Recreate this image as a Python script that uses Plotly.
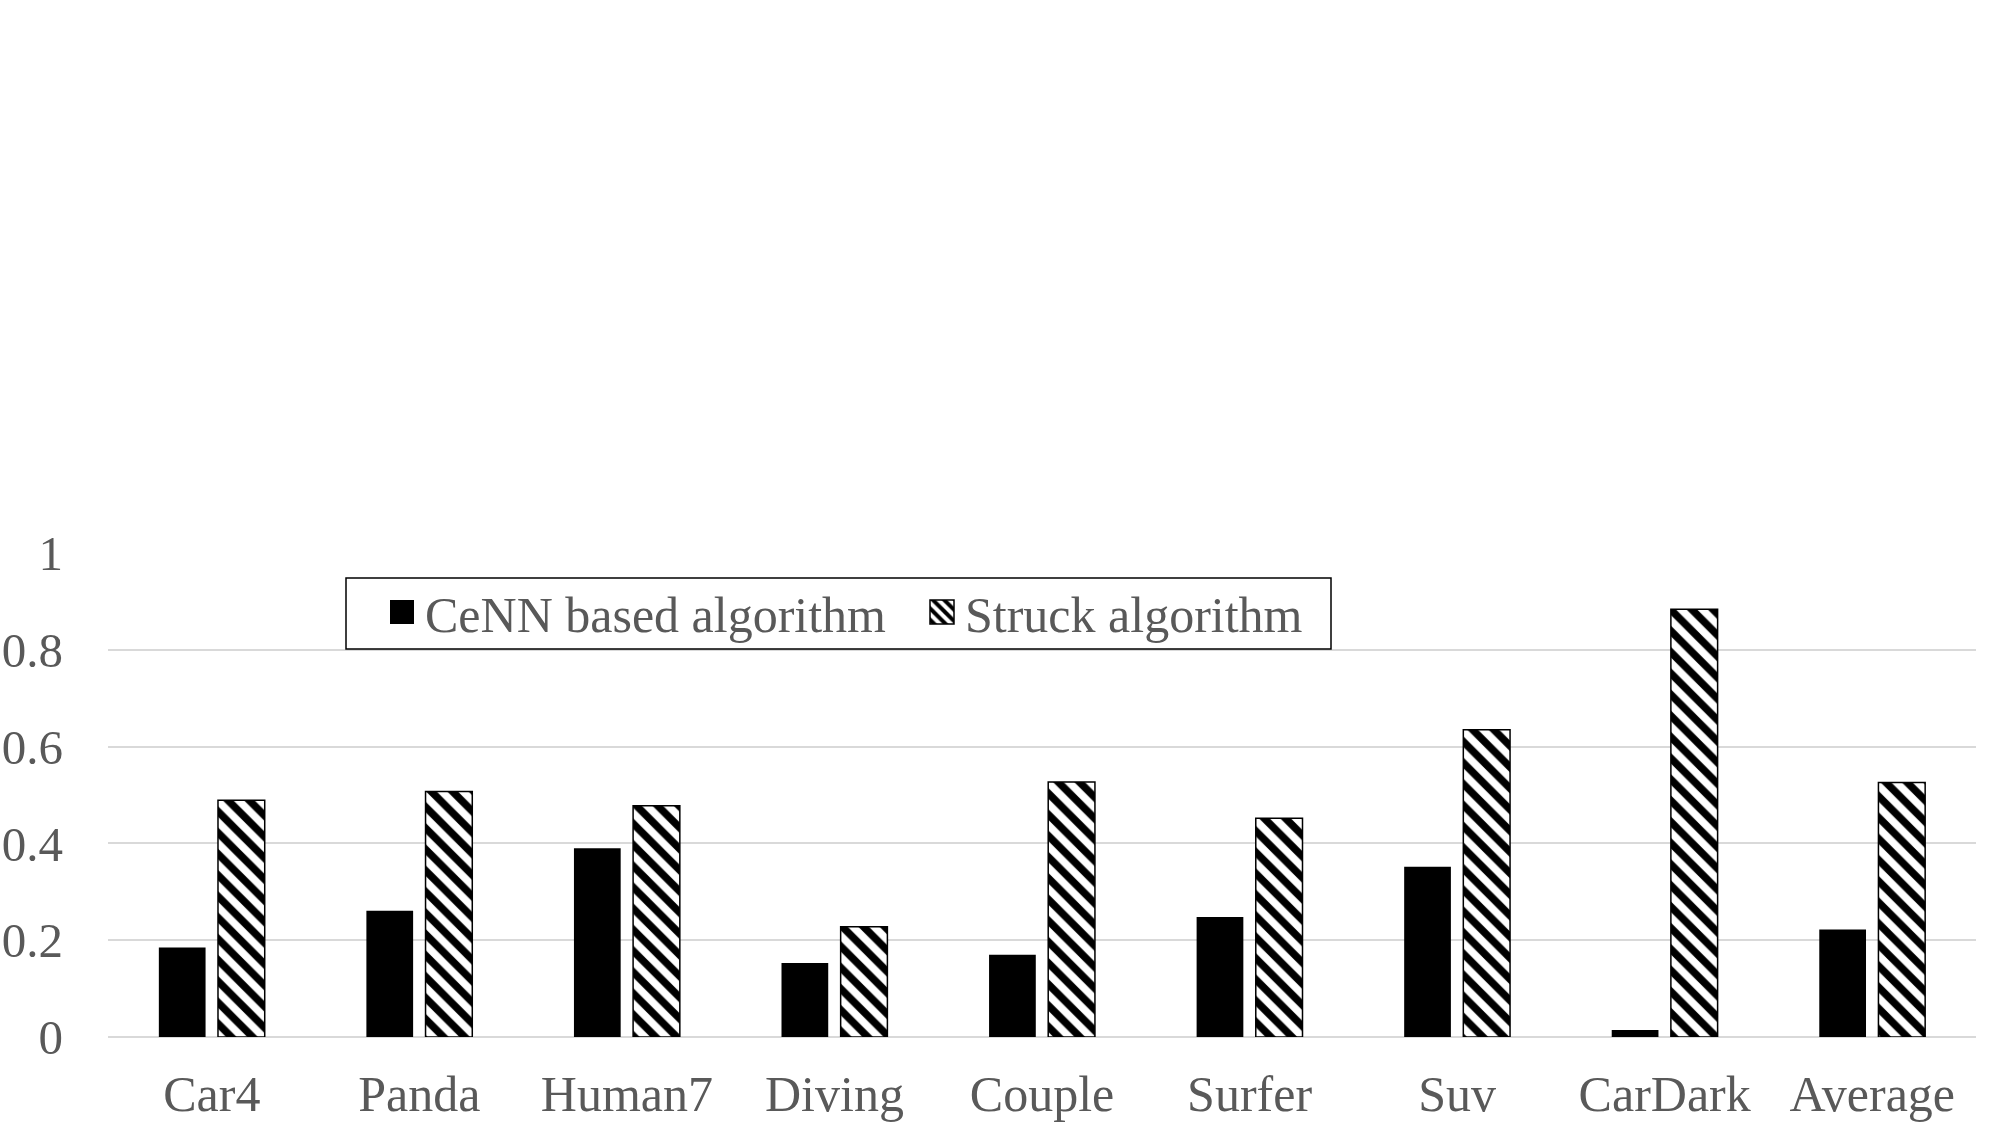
import plotly.graph_objects as go

categories = ["Car4", "Panda", "Human7", "Diving", "Couple", "Surfer", "Suv", "CarDark", "Average"]
cenn_values = [0.185, 0.261, 0.390, 0.153, 0.170, 0.248, 0.352, 0.0145, 0.222]
struck_values = [0.489, 0.507, 0.478, 0.228, 0.527, 0.452, 0.635, 0.884, 0.526]
series_names = ["CeNN based algorithm", "Struck algorithm"]
y_ticks = [0, 0.2, 0.4, 0.6, 0.8, 1]
y_tick_labels = ["0", "0.2", "0.4", "0.6", "0.8", "1"]

FONT = "Liberation Serif, Times New Roman, serif"
TEXT_COLOR = "#595959"
GRID = "#d9d9d9"

# plot-area geometry (px) used to convert legend box position to paper coords
W, H = 2000, 1125
ML, MR, MT, MB = 108, 24, 553, 88
PW, PH = W - ML - MR, H - MT - MB


def px_x(x):
    return (x - ML) / PW


def px_y(y):
    return (H - MB - y) / PH


fig = go.Figure()
fig.add_trace(go.Bar(
    x=categories, y=cenn_values, name=series_names[0],
    marker=dict(color="black", line=dict(color="black", width=0)),
))
fig.add_trace(go.Bar(
    x=categories, y=struck_values, name=series_names[1],
    marker=dict(color="white", line=dict(color="black", width=1.5),
                pattern=dict(shape="\\", fgcolor="black", bgcolor="white",
                             fgopacity=1, size=15, solidity=0.5,
                             fillmode="replace")),
))

# legend frame
fig.add_shape(type="rect", xref="paper", yref="paper",
              x0=px_x(346), x1=px_x(1331), y0=px_y(649), y1=px_y(578),
              line=dict(color="black", width=1.5), fillcolor="white", layer="above")

fig.update_layout(
    width=W, height=H,
    margin=dict(l=ML, r=MR, t=MT, b=MB, pad=0, autoexpand=False),
    paper_bgcolor="white", plot_bgcolor="white",
    barmode="group", bargap=0.43, bargroupgap=0.21,
    font=dict(family=FONT, size=50, color=TEXT_COLOR),
    showlegend=True,
    legend=dict(
        orientation="h", x=px_x(385), y=px_y(612), xanchor="left", yanchor="middle",
        bgcolor="rgba(0,0,0,0)", borderwidth=0,
        font=dict(family=FONT, size=50, color=TEXT_COLOR),
        traceorder="normal", entrywidth=495, entrywidthmode="pixels",
    ),
    xaxis=dict(
        type="category", range=[-0.5, 8.5], automargin=False,
        showgrid=False, showline=False, zeroline=False,
        ticks="", tickfont=dict(family=FONT, size=50, color=TEXT_COLOR),
        ticklabelstandoff=23,
    ),
    yaxis=dict(
        range=[0, 1], tickvals=y_ticks, ticktext=y_tick_labels, automargin=False,
        showgrid=True, gridcolor=GRID, gridwidth=2,
        zeroline=True, zerolinecolor=GRID, zerolinewidth=2,
        showline=False, ticks="",
        tickfont=dict(family=FONT, size=49, color=TEXT_COLOR),
        ticklabelstandoff=44,
    ),
)

enlarge_swatches = """
var gd = document.getElementById('{plot_id}');
gd.querySelectorAll('.legend .legendpoints path').forEach(function (p) {
  p.setAttribute('d', 'M9,12H-15V-12H9Z');
});
"""

fig.write_html("out.html", post_script=enlarge_swatches)
